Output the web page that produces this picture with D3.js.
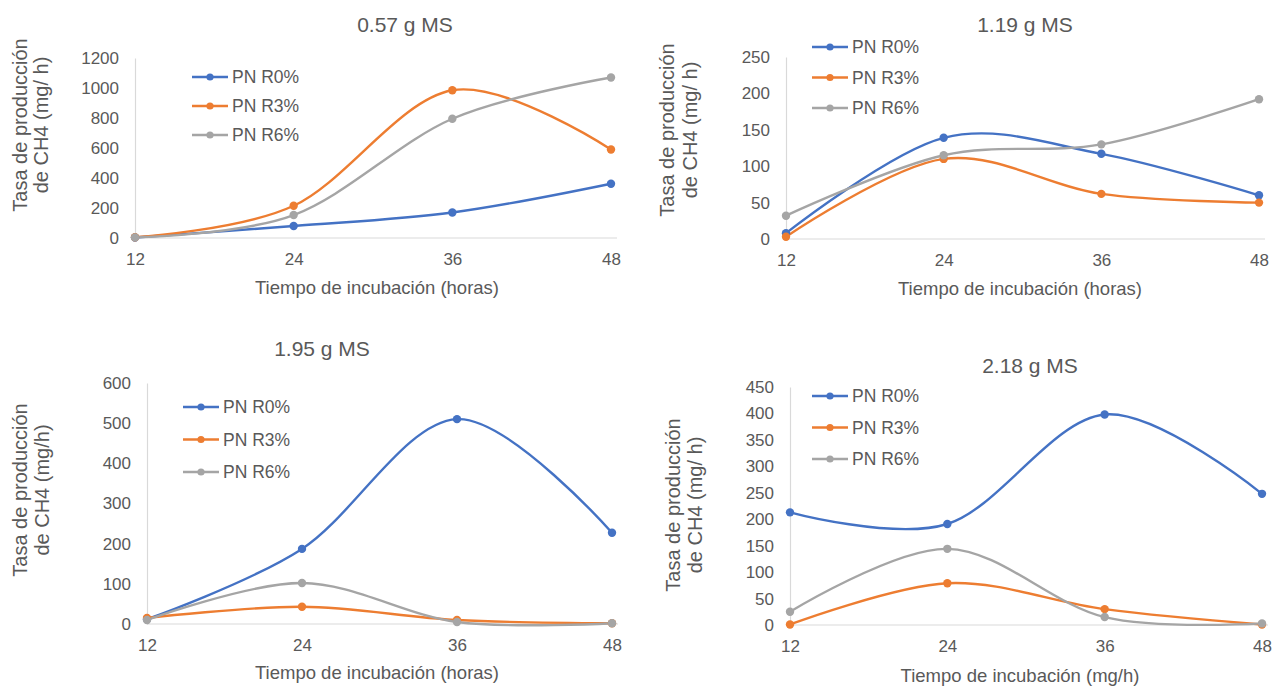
<!DOCTYPE html>
<html>
<head>
<meta charset="utf-8">
<script src="https://cdn.jsdelivr.net/npm/d3@7"></script>
<style>
  body { margin: 0; background: #fff; }
  text { font-family: "Liberation Sans", Arial, sans-serif; fill: #595959; }
</style>
</head>
<body>
<svg id="chart" width="1280" height="686"></svg>
<script>
// data
const hours = [12, 24, 36, 48];
const seriesNames = ["PN R0%", "PN R3%", "PN R6%"];
const seriesColors = ["#4472C4", "#ED7D31", "#A5A5A5"];

const panelTitles = ["0.57 g MS", "1.19 g MS", "1.95 g MS", "2.18 g MS"];
const xTitles = [
  "Tiempo de incubación (horas)",
  "Tiempo de incubación (horas)",
  "Tiempo de incubación (horas)",
  "Tiempo de incubación (mg/h)"
];
const yTitleTop = "Tasa de producción";
const yTitleBottom = ["de CH4 (mg/ h)", "de CH4 (mg/ h)", "de CH4 (mg/h)", "de CH4 (mg/ h)"];
const yMax = [1200, 250, 600, 450];
const yStep = [200, 50, 100, 50];

// 0.57 g MS
const r0_057 = [3, 80, 170, 362];
const r3_057 = [5, 215, 985, 590];
const r6_057 = [4, 153, 795, 1070];
// 1.19 g MS
const r0_119 = [8, 139, 117, 60];
const r3_119 = [3, 110, 62, 50];
const r6_119 = [32, 115, 130, 192];
// 1.95 g MS
const r0_195 = [12, 187, 510, 227];
const r3_195 = [15, 43, 10, 2];
const r6_195 = [10, 102, 5, 2];
// 2.18 g MS
const r0_218 = [213, 191, 398, 248];
const r3_218 = [1, 79, 30, 1];
const r6_218 = [25, 144, 15, 3];

const panelSeries = [
  [r0_057, r3_057, r6_057],
  [r0_119, r3_119, r6_119],
  [r0_195, r3_195, r6_195],
  [r0_218, r3_218, r6_218]
];

// layout of the four panels (pixels)
const layout = [
  { x0: 135, x1: 611, yZero: 238, yTop: 58, titleX: 405, titleY: 25,
    legX: 192, legY: 77, legDy: 29, yt1: 20, yt2: 41, ytY: 125, tickY: 258, xtX: 377, xtY: 288 },
  { x0: 786, x1: 1259, yZero: 239, yTop: 57, titleX: 1025, titleY: 25,
    legX: 812, legY: 47, legDy: 30.5, yt1: 667, yt2: 690, ytY: 130, tickY: 258, xtX: 1020, xtY: 289 },
  { x0: 147, x1: 612, yZero: 624, yTop: 383, titleX: 322, titleY: 349,
    legX: 183, legY: 407, legDy: 32.5, yt1: 20, yt2: 42, ytY: 490, tickY: 648, xtX: 377, xtY: 673 },
  { x0: 790, x1: 1262, yZero: 625, yTop: 387, titleX: 1030, titleY: 366,
    legX: 812, legY: 396, legDy: 31.5, yt1: 673, yt2: 695, ytY: 505, tickY: 648, xtX: 1020, xtY: 676 }
];

const svg = d3.select("#chart");

panelSeries.forEach((series, i) => {
  const L = layout[i];
  const g = svg.append("g");

  const x = d3.scaleLinear().domain([12, 48]).range([L.x0, L.x1]);
  const y = d3.scaleLinear().domain([0, yMax[i]]).range([L.yZero, L.yTop]);

  // y axis
  const yAxis = g.append("g")
    .attr("transform", `translate(${L.x0},0)`)
    .call(d3.axisLeft(y)
      .tickValues(d3.range(0, yMax[i] + 1, yStep[i]))
      .tickFormat(d3.format("d"))
      .tickSize(0).tickPadding(16));
  yAxis.select(".domain").attr("stroke", "#d9d9d9").attr("stroke-width", 1.2);
  yAxis.selectAll("text").style("font-size", "17px").attr("fill", "#595959");

  // x axis
  const xAxis = g.append("g")
    .attr("transform", `translate(0,${L.yZero})`)
    .call(d3.axisBottom(x).tickValues(hours).tickSize(0).tickPadding(15));
  xAxis.select(".domain").attr("d", `M${L.x0},0H${L.x1 + 6}`)
    .attr("stroke", "#d9d9d9").attr("stroke-width", 1.2);
  xAxis.selectAll("text").style("font-size", "17px").attr("fill", "#595959");

  // lines
  const line = d3.line()
    .x((d, j) => x(hours[j]))
    .y((d) => y(d))
    .curve(d3.curveCardinal.tension(0));

  series.forEach((vals, s) => {
    g.append("path")
      .datum(vals)
      .attr("fill", "none")
      .attr("stroke", seriesColors[s])
      .attr("stroke-width", 2.4)
      .attr("d", line);
  });
  series.forEach((vals, s) => {
    g.selectAll(null)
      .data(vals)
      .enter()
      .append("circle")
      .attr("cx", (d, j) => x(hours[j]))
      .attr("cy", (d) => y(d))
      .attr("r", 4.2)
      .attr("fill", seriesColors[s]);
  });

  // title
  g.append("text")
    .attr("x", L.titleX).attr("y", L.titleY)
    .attr("dy", "0.35em").attr("text-anchor", "middle")
    .style("font-size", "21px")
    .text(panelTitles[i]);

  // axis titles
  g.append("text")
    .attr("x", L.xtX).attr("y", L.xtY)
    .attr("dy", "0.35em").attr("text-anchor", "middle")
    .style("font-size", "18.5px")
    .text(xTitles[i]);
  [[L.yt1, yTitleTop], [L.yt2, yTitleBottom[i]]].forEach(([tx, str]) => {
    g.append("text")
      .attr("transform", `translate(${tx},${L.ytY}) rotate(-90)`)
      .attr("dy", "0.35em").attr("text-anchor", "middle")
      .style("font-size", "20px")
      .text(str);
  });

  // legend
  seriesNames.forEach((name, s) => {
    const ly = L.legY + s * L.legDy;
    g.append("line")
      .attr("x1", L.legX).attr("x2", L.legX + 36)
      .attr("y1", ly).attr("y2", ly)
      .attr("stroke", seriesColors[s]).attr("stroke-width", 2.4);
    g.append("circle")
      .attr("cx", L.legX + 18).attr("cy", ly).attr("r", 3.6)
      .attr("fill", seriesColors[s]);
    g.append("text")
      .attr("x", L.legX + 40).attr("y", ly)
      .attr("dy", "0.35em")
      .style("font-size", "17.5px")
      .text(name);
  });
});
</script>
</body>
</html>
